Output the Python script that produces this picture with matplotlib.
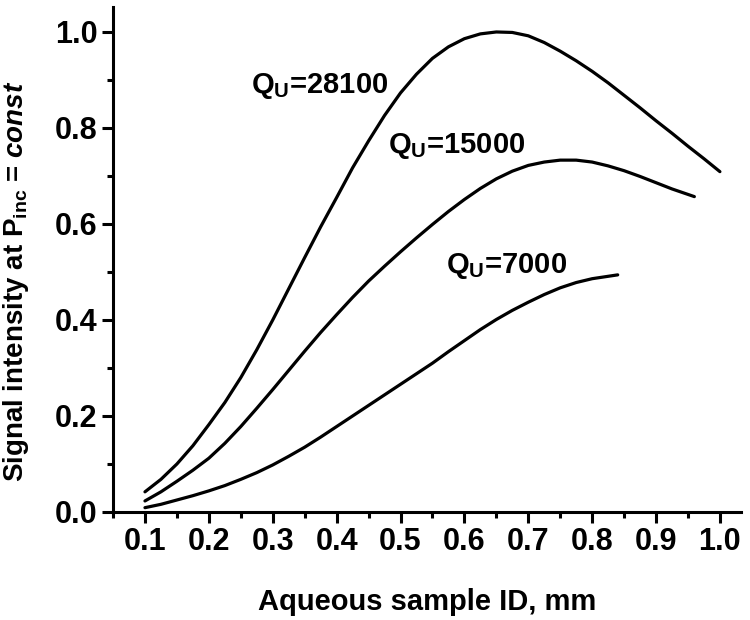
import numpy as np
import matplotlib
matplotlib.use("Agg")
from matplotlib import pyplot as plt
from matplotlib.ticker import MultipleLocator, FormatStrFormatter

fontsize = 22
LINEWIDTH = 2.3
plt.rcParams.update({
    'font.family': 'Liberation Sans',
    'font.weight': 'bold',
    'font.size': fontsize,
    'mathtext.fontset': 'custom',
    'mathtext.rm': 'Liberation Sans:bold',
    'mathtext.it': 'Liberation Sans:italic:bold',
    'mathtext.bf': 'Liberation Sans:bold',
})

# curves
x_28100 = [0.100, 0.125, 0.150, 0.175, 0.200, 0.225, 0.250, 0.275, 0.300, 0.325,
           0.350, 0.375, 0.400, 0.425, 0.450, 0.475, 0.500, 0.525, 0.550, 0.575,
           0.600, 0.625, 0.650, 0.675, 0.700, 0.725, 0.750, 0.775, 0.800, 0.825,
           0.850, 0.875, 0.900, 0.925, 0.950, 0.975, 1.000]
y_28100 = [0.042, 0.068, 0.100, 0.138, 0.182, 0.228, 0.280, 0.338, 0.400, 0.465,
           0.530, 0.594, 0.655, 0.717, 0.773, 0.826, 0.873, 0.912, 0.945, 0.969,
           0.986, 0.996, 1.000, 0.999, 0.992, 0.978, 0.960, 0.940, 0.918, 0.894,
           0.868, 0.842, 0.815, 0.789, 0.762, 0.736, 0.709]

x_15000 = [0.100, 0.125, 0.150, 0.175, 0.200, 0.225, 0.250, 0.275, 0.300, 0.325,
           0.350, 0.375, 0.400, 0.425, 0.450, 0.475, 0.500, 0.525, 0.550, 0.575,
           0.600, 0.625, 0.650, 0.675, 0.700, 0.725, 0.750, 0.775, 0.800, 0.825,
           0.850, 0.875, 0.900, 0.925, 0.960]
y_15000 = [0.023, 0.042, 0.064, 0.087, 0.112, 0.143, 0.178, 0.216, 0.255, 0.295,
           0.335, 0.374, 0.411, 0.447, 0.481, 0.512, 0.542, 0.571, 0.599, 0.626,
           0.651, 0.674, 0.694, 0.710, 0.722, 0.729, 0.733, 0.733, 0.729, 0.721,
           0.711, 0.699, 0.686, 0.673, 0.657]

x_7000 = [0.100, 0.125, 0.150, 0.175, 0.200, 0.225, 0.250, 0.275, 0.300, 0.325,
          0.350, 0.375, 0.400, 0.425, 0.450, 0.475, 0.500, 0.525, 0.550, 0.575,
          0.600, 0.625, 0.650, 0.675, 0.700, 0.725, 0.750, 0.775, 0.800, 0.825,
          0.840]
y_7000 = [0.009, 0.016, 0.025, 0.034, 0.044, 0.055, 0.068, 0.082, 0.098, 0.116,
          0.135, 0.156, 0.178, 0.200, 0.222, 0.244, 0.266, 0.288, 0.310, 0.334,
          0.357, 0.380, 0.401, 0.420, 0.437, 0.453, 0.467, 0.478, 0.486, 0.491,
          0.494]

LABELS = [r'Q$_\mathrm{U}$=28100', r'Q$_\mathrm{U}$=15000', r'Q$_\mathrm{U}$=7000']
label_x = [0.266, 0.480, 0.572]
label_y = [0.873, 0.748, 0.498]

fig = plt.figure(figsize=(7.5, 6.2), dpi=100)
ax = fig.add_axes([0.1507, 0.1742, 0.8373, 0.8145])

for xs, ys in [(x_28100, y_28100), (x_15000, y_15000), (x_7000, y_7000)]:
    ax.plot(xs, ys, color='black', linewidth=LINEWIDTH, solid_capstyle='round')

for txt, tx, ty in zip(LABELS, label_x, label_y):
    ax.text(tx, ty, txt, ha='left', va='baseline', fontsize=21, fontweight='bold')

ax.set_xlim(0.05, 1.033)
ax.set_ylim(0.0, 1.052)
ax.set_xticks(np.arange(0.1, 1.01, 0.1))
ax.xaxis.set_minor_locator(MultipleLocator(0.05))
ax.yaxis.set_major_locator(MultipleLocator(0.2))
ax.yaxis.set_minor_locator(MultipleLocator(0.1))
ax.xaxis.set_major_formatter(FormatStrFormatter('%.1f'))
ax.yaxis.set_major_formatter(FormatStrFormatter('%.1f'))

for s in ['top', 'right']:
    ax.spines[s].set_visible(False)
for s in ['left', 'bottom']:
    ax.spines[s].set_linewidth(2.2)

ax.tick_params(which='major', direction='out', length=8, width=2.2, pad=3, labelsize=fontsize)
ax.tick_params(which='minor', direction='out', length=4.5, width=2.2)

ax.set_xlabel("Aqueous sample ID, mm", fontsize=21, fontweight='bold')
ax.xaxis.set_label_coords(0.5, -0.150)
ax.xaxis.label.set_va('top')
ax.set_ylabel(r"Signal intensity at P$_\mathrm{inc}$ = $const$", fontsize=20, fontweight='bold')
ax.yaxis.set_label_coords(-0.130, 0.457)

plt.savefig("out.png", dpi=100)
